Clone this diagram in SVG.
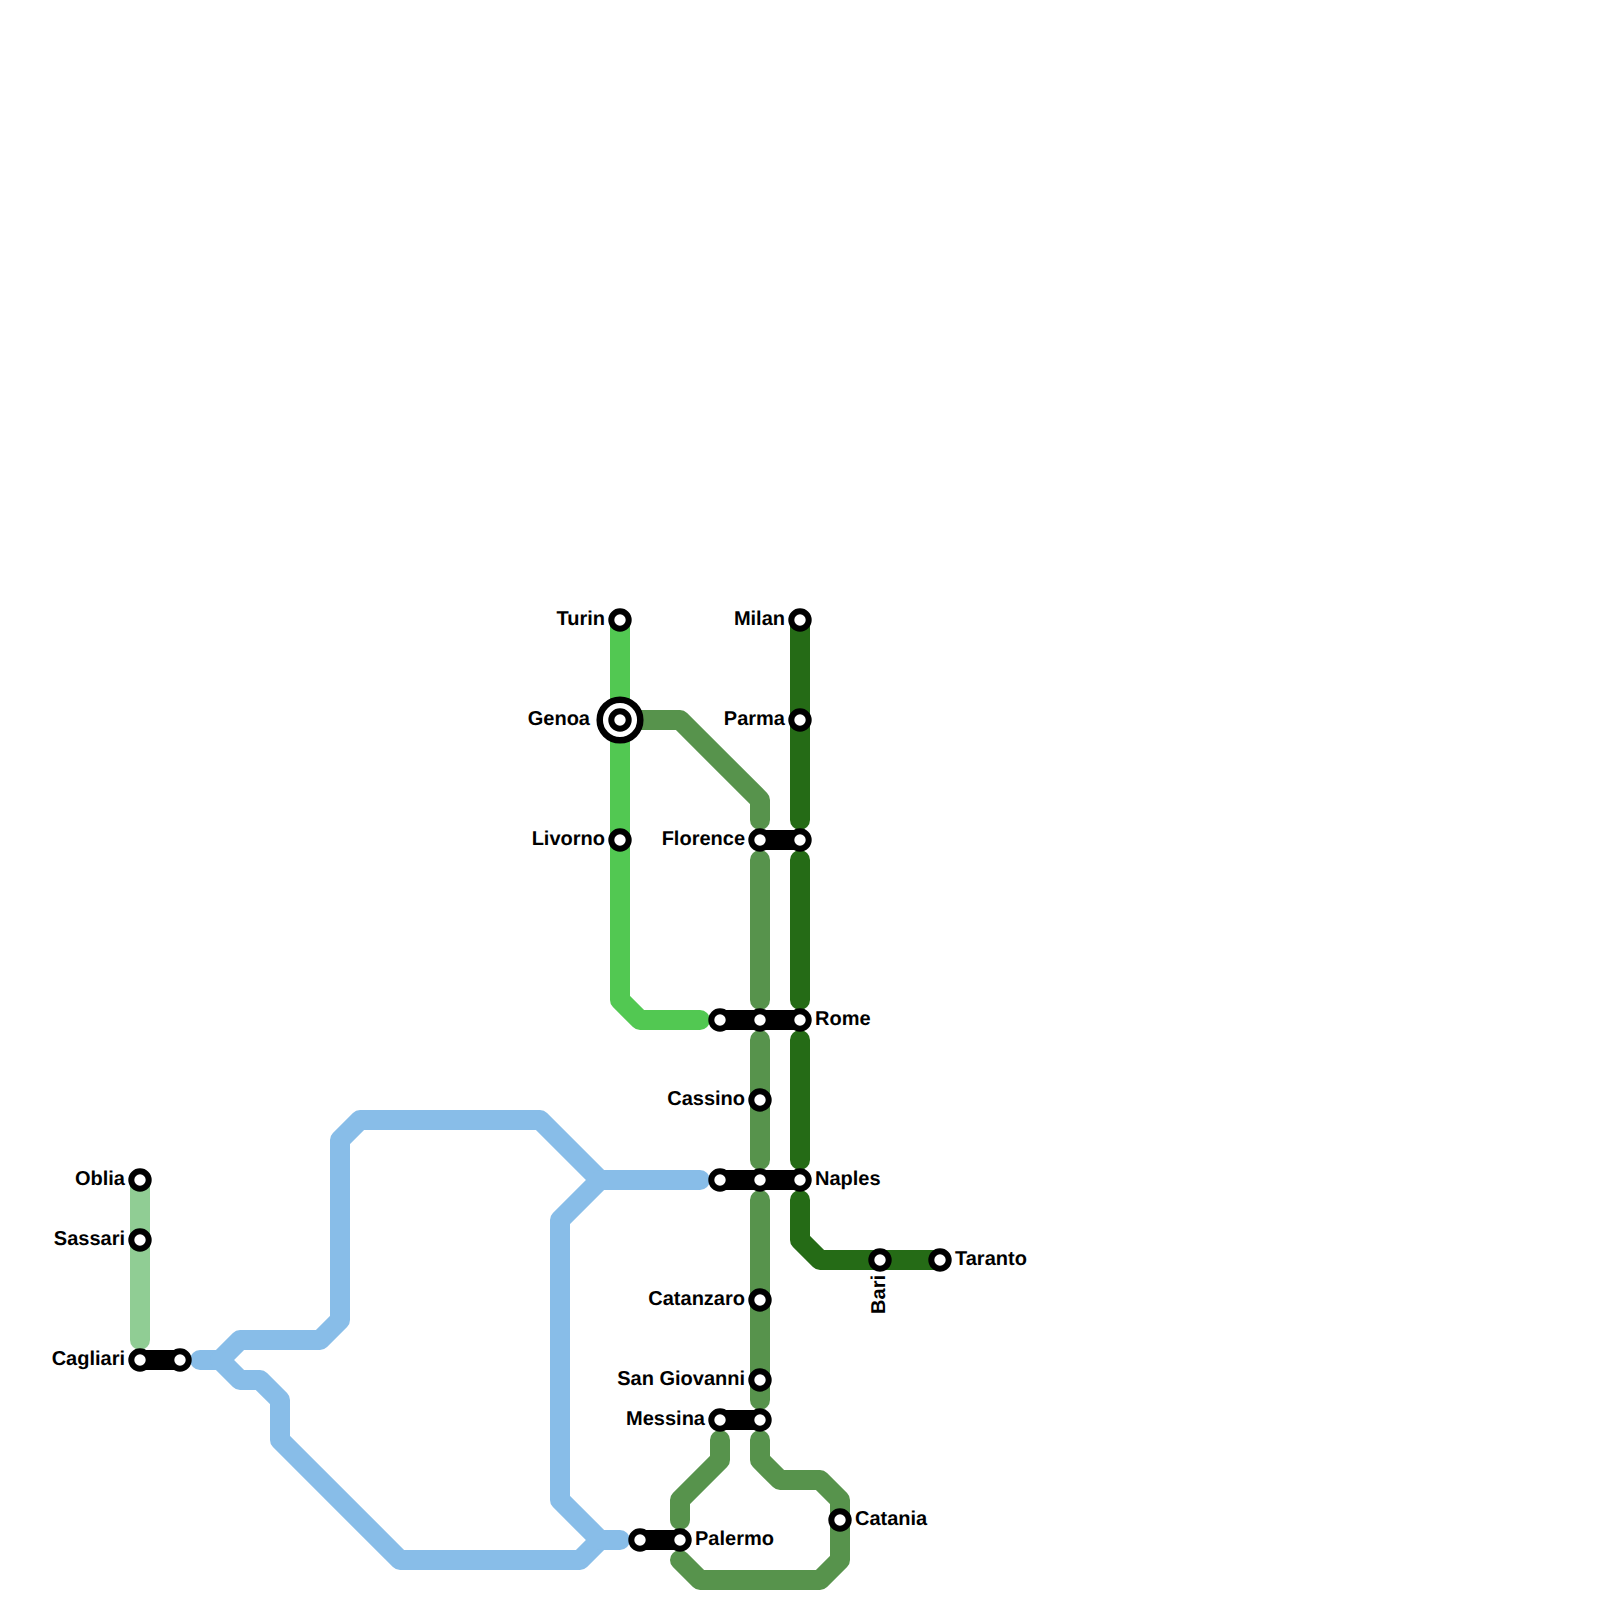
<svg xmlns="http://www.w3.org/2000/svg" width="1600" height="1600" viewBox="0 0 1600 1600">
<style>
.l{fill:none;stroke-width:20;stroke-linecap:round;stroke-linejoin:round}
.lg{stroke:#52c852}.dg{stroke:#256b16}.mg{stroke:#57934c}.bl{stroke:#88bde8}.pg{stroke:#90cd94}.bk{stroke:#000}
.s{fill:#fff;stroke:#000;stroke-width:6}
text{font-family:"Liberation Sans",Arial,sans-serif;font-weight:700;font-size:20px;fill:#000;text-rendering:geometricPrecision}
.e{text-anchor:end}
</style>
<rect width="1600" height="1600" fill="#fff"/>
<g id="connectors">
<path class="l pg" d="M140 1180V1340"/>
<path class="l bl" d="M700 1180H600L540 1120H360L340 1140V1320L320 1340H240L220 1360H200"/>
<path class="l bl" d="M220 1360L240 1380H260L280 1400V1440L400 1560H580L600 1540H620"/>
<path class="l bl" d="M600 1180L560 1220V1500L600 1540"/>
<path class="l lg" d="M620 620V1000L640 1020H700"/>
<path class="l dg" d="M800 620V820M800 860V1000M800 1040V1160M800 1200V1240L820 1260H940"/>
<path class="l mg" d="M620 720H680L760 800V820M760 860V1000M760 1040V1160M760 1200V1400"/>
<path class="l mg" d="M760 1440V1460L780 1480H820L840 1500V1560L820 1580H700L680 1560"/>
<path class="l mg" d="M720 1440V1460L680 1500V1520"/>
<path class="l bk" d="M140 1360H180M760 840H800M720 1020H800M720 1180H800M720 1420H760M640 1540H680"/>
</g>
<g id="oblia"><circle class="s" cx="140" cy="1180" r="8.7"/><text class="e" x="125" y="1185">Oblia</text></g>
<g id="sassari"><circle class="s" cx="140" cy="1240" r="8.7"/><text class="e" x="125" y="1245">Sassari</text></g>
<g id="cagliari"><circle class="s" cx="140" cy="1360" r="8.7"/><circle class="s" cx="180" cy="1360" r="8.7"/><text class="e" x="125" y="1365">Cagliari</text></g>
<g id="turin"><circle class="s" cx="620" cy="620" r="8.7"/><text class="e" x="605" y="625">Turin</text></g>
<g id="genoa"><circle class="s" cx="620" cy="720" r="20.3" style="stroke-width:6.5"/><circle class="s" cx="620" cy="720" r="8.7"/><text class="e" x="590" y="725">Genoa</text></g>
<g id="livorno"><circle class="s" cx="620" cy="840" r="8.7"/><text class="e" x="605" y="845">Livorno</text></g>
<g id="milan"><circle class="s" cx="800" cy="620" r="8.7"/><text class="e" x="785" y="625">Milan</text></g>
<g id="parma"><circle class="s" cx="800" cy="720" r="8.7"/><text class="e" x="785" y="725">Parma</text></g>
<g id="florence"><circle class="s" cx="760" cy="840" r="8.7"/><circle class="s" cx="800" cy="840" r="8.7"/><text class="e" x="745" y="845">Florence</text></g>
<g id="rome"><circle class="s" cx="720" cy="1020" r="8.7"/><circle class="s" cx="760" cy="1020" r="8.7"/><circle class="s" cx="800" cy="1020" r="8.7"/><text x="815" y="1025">Rome</text></g>
<g id="cassino"><circle class="s" cx="760" cy="1100" r="8.7"/><text class="e" x="745" y="1105">Cassino</text></g>
<g id="naples"><circle class="s" cx="720" cy="1180" r="8.7"/><circle class="s" cx="760" cy="1180" r="8.7"/><circle class="s" cx="800" cy="1180" r="8.7"/><text x="815" y="1185">Naples</text></g>
<g id="bari"><circle class="s" cx="880" cy="1260" r="8.7"/><text class="e" transform="translate(885 1275) rotate(-90)">Bari</text></g>
<g id="taranto"><circle class="s" cx="940" cy="1260" r="8.7"/><text x="955" y="1265">Taranto</text></g>
<g id="catanzaro"><circle class="s" cx="760" cy="1300" r="8.7"/><text class="e" x="745" y="1305">Catanzaro</text></g>
<g id="san-giovanni"><circle class="s" cx="760" cy="1380" r="8.7"/><text class="e" x="745" y="1385">San Giovanni</text></g>
<g id="messina"><circle class="s" cx="720" cy="1420" r="8.7"/><circle class="s" cx="760" cy="1420" r="8.7"/><text class="e" x="705" y="1425">Messina</text></g>
<g id="palermo"><circle class="s" cx="640" cy="1540" r="8.7"/><circle class="s" cx="680" cy="1540" r="8.7"/><text x="695" y="1545">Palermo</text></g>
<g id="catania"><circle class="s" cx="840" cy="1520" r="8.7"/><text x="855" y="1525">Catania</text></g>
</svg>
